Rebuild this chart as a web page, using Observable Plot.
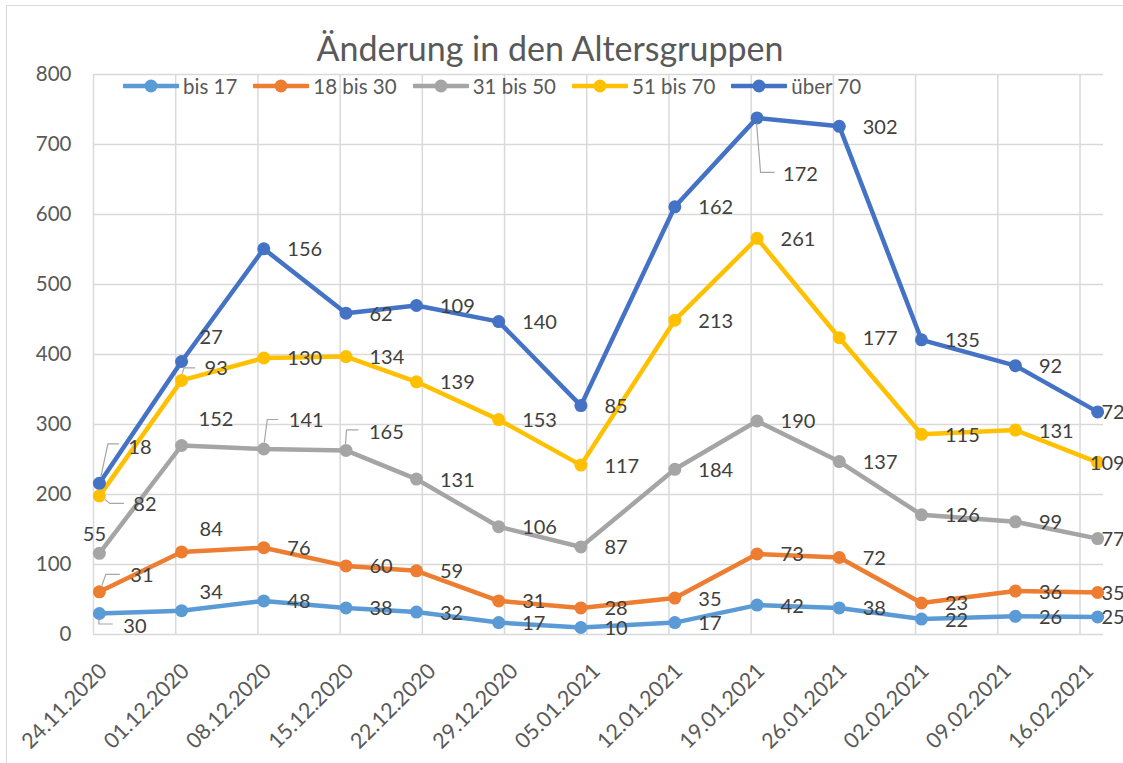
<!DOCTYPE html>
<html>
<head>
<meta charset="utf-8">
<script src="https://cdn.jsdelivr.net/npm/d3@7"></script>
<script src="https://cdn.jsdelivr.net/npm/@observablehq/plot@0.6"></script>
<style>
  body { margin: 0; background: #fff; }
  #chart { position: relative; width: 1123px; height: 763px; overflow: hidden; background: #fff; font-family: Lato, "Noto Sans", sans-serif; }
  #border { position: absolute; left: 6px; top: 5px; width: 1200px; height: 900px; border-left: 1.5px solid #d9d9d9; border-top: 1.5px solid #d9d9d9; }
  #title { position: absolute; left: 0; width: 1100px; top: 28px; text-align: center; font-size: 34px; color: #595959; line-height: 40px; }
  #plot { position: absolute; left: 0; top: 0; }
  #legend { position: absolute; left: 123px; top: 74px; display: flex; align-items: center; font-size: 20.5px; color: #595959; height: 24px; }
  .item { display: flex; align-items: center; margin-right: 16px; }
  .item svg { margin-right: 4px; }
</style>
</head>
<body>
<div id="chart">
  <div id="border"></div>
  <div id="plot"></div>
  <div id="title">Änderung in den Altersgruppen</div>
  <div id="legend"></div>
</div>
<script>
// ---- Data ----
const seriesNames = ["bis 17", "18 bis 30", "31 bis 50", "51 bis 70", "über 70"];
const seriesColors = ["#5B9BD5", "#ED7D31", "#A5A5A5", "#FFC000", "#4472C4"];
const dates = ["2020-11-24", "2020-12-01", "2020-12-08", "2020-12-15", "2020-12-21", "2020-12-28", "2021-01-04",
               "2021-01-12", "2021-01-19", "2021-01-26", "2021-02-02", "2021-02-10", "2021-02-17"];
const tickDates = ["2020-11-24", "2020-12-01", "2020-12-08", "2020-12-15", "2020-12-22", "2020-12-29", "2021-01-05",
                   "2021-01-12", "2021-01-19", "2021-01-26", "2021-02-02", "2021-02-09", "2021-02-16"];
const tickLabels = ["24.11.2020", "01.12.2020", "08.12.2020", "15.12.2020", "22.12.2020", "29.12.2020", "05.01.2021",
                    "12.01.2021", "19.01.2021", "26.01.2021", "02.02.2021", "09.02.2021", "16.02.2021"];
const yTicks = [0, 100, 200, 300, 400, 500, 600, 700, 800];
const bis17   = [30, 34, 48, 38, 32, 17, 10, 17, 42, 38, 22, 26, 25];
const bis30   = [31, 84, 76, 60, 59, 31, 28, 35, 73, 72, 23, 36, 35];
const bis50   = [55, 152, 141, 165, 131, 106, 87, 184, 190, 137, 126, 99, 77];
const bis70   = [82, 93, 130, 134, 139, 153, 117, 213, 261, 177, 115, 131, 109];
const ueber70 = [18, 27, 156, 62, 109, 140, 85, 162, 172, 302, 135, 92, 72];
const seriesValues = [bis17, bis30, bis50, bis70, ueber70];

// ---- Label placement (pixel offsets of moved data labels) ----
const moved = [
  {s: 0, i: 0, dx: 24, dy: 13, leader: [[0, 6], [0, 11], [14, 11]]},
  {s: 1, i: 0, dx: 31, dy: -16, leader: [[3, -6], [7, -17], [21, -17]]},
  {s: 2, i: 0, dx: -5, dy: -19, anchor: "middle"},
  {s: 3, i: 0, dx: 34, dy: 9, leader: [[6, 4], [11, 8], [25, 8]]},
  {s: 4, i: 0, dx: 29, dy: -36, leader: [[2, -6], [9, -39], [20, -39]]},
  {s: 3, i: 1, dx: 23, dy: -12, leader: [[1, -6], [3, -12], [14, -12]]},
  {s: 4, i: 1, dx: 18, dy: -24},
  {s: 2, i: 1, dx: 17, dy: -26},
  {s: 1, i: 1, dx: 18, dy: -22},
  {s: 0, i: 1, dx: 18, dy: -18},
  {s: 2, i: 2, dx: 25, dy: -28, leader: [[1, -6], [4, -29], [15, -29]]},
  {s: 2, i: 3, dx: 23, dy: -18, leader: [[0, -6], [1, -20], [13, -20]]},
  {s: 4, i: 8, dx: 26, dy: 57, leader: [[0, 6], [4, 55], [18, 55]]}
];

// ---- Build table (stacked lines: each line sits on the previous cumulative total) ----
const rows = [];
seriesNames.forEach((name, s) => {
  seriesValues[s].forEach((v, i) => {
    const below = seriesValues.slice(0, s).reduce((acc, arr) => acc + arr[i], 0);
    rows.push({series: name, s, i, date: new Date(dates[i] + "T12:00:00Z"), value: v, top: below + v});
  });
});
const gridDates = tickDates.map(d => new Date(d + "T00:00:00Z"));
const labelDates = tickDates.map(d => new Date(d + "T12:00:00Z"));
const labelMap = new Map(labelDates.map((d, k) => [+d, tickLabels[k]]));
const lastIndex = dates.length - 1;
const isMoved = d => moved.some(m => m.s === d.s && m.i === d.i);

const labelStyle = {x: "date", y: "top", text: d => String(d.value), fill: "#404040", fontSize: 20};

const marks = [
  Plot.gridY(yTicks, {stroke: "#d9d9d9", strokeOpacity: 1, strokeWidth: 1.5}),
  Plot.gridX(gridDates, {stroke: "#d9d9d9", strokeOpacity: 1, strokeWidth: 1.5}),
  Plot.axisY(yTicks, {tickSize: 0, tickPadding: 22, fontSize: 20.5, fill: "#595959", label: null}),
  Plot.axisX(labelDates, {tickSize: 0, tickPadding: 33, dx: 4, tickRotate: -45, fontSize: 21.5, fill: "#595959",
                          label: null, tickFormat: d => labelMap.get(+d)})
];
seriesNames.forEach((name, s) => {
  const data = rows.filter(r => r.s === s);
  marks.push(Plot.line(data, {x: "date", y: "top", stroke: seriesColors[s], strokeWidth: 4.5, strokeLinejoin: "round"}));
  marks.push(Plot.dot(data, {x: "date", y: "top", r: 6.5, fill: seriesColors[s], stroke: "none"}));
});
marks.push(Plot.text(rows.filter(d => !isMoved(d) && d.i !== lastIndex), {...labelStyle, dx: 23.5, dy: 1, textAnchor: "start"}));
marks.push(Plot.text(rows.filter(d => d.i === lastIndex), {...labelStyle, dx: 27, dy: 1, textAnchor: "end"}));
moved.forEach(m => {
  marks.push(Plot.text(rows.filter(d => d.s === m.s && d.i === m.i), {...labelStyle, dx: m.dx, dy: m.dy, textAnchor: m.anchor || "start"}));
});

const plot = Plot.plot({
  width: 1123,
  height: 763,
  marginLeft: 93,
  marginRight: 20,
  marginTop: 74,
  marginBottom: 129,
  style: {fontFamily: "Lato, 'Noto Sans', sans-serif", background: "transparent", overflow: "visible"},
  x: {type: "utc", domain: [new Date("2020-11-24T00:00:00Z"), new Date("2021-02-18T00:00:00Z")], label: null},
  y: {domain: [0, 800], label: null},
  marks
});

// leader lines for moved labels, positioned through the plot's scales
const sx = plot.scale("x"), sy = plot.scale("y");
const svg = d3.select(plot);
const g = svg.append("g").attr("fill", "none").attr("stroke", "#A6A6A6").attr("stroke-width", 1.2);
moved.filter(m => m.leader).forEach(m => {
  const r = rows.find(d => d.s === m.s && d.i === m.i);
  const px = sx.apply(r.date), py = sy.apply(r.top);
  g.append("path").attr("d", "M" + m.leader.map(([a, b]) => [px + a, py + b].join(",")).join("L"));
});
document.getElementById("plot").appendChild(plot);

// legend
const legend = document.getElementById("legend");
seriesNames.forEach((name, s) => {
  const item = document.createElement("div");
  item.className = "item";
  item.innerHTML = `<svg width="56" height="16"><line x1="1" y1="8" x2="55" y2="8" stroke="${seriesColors[s]}" stroke-width="4.5" stroke-linecap="round"/><circle cx="28" cy="8" r="6.5" fill="${seriesColors[s]}"/></svg><span>${name}</span>`;
  legend.appendChild(item);
});
</script>
</body>
</html>
